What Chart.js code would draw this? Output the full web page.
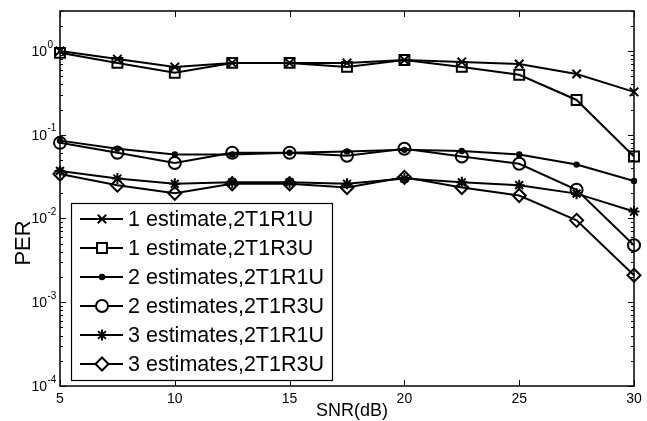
<!DOCTYPE html>
<html>
<head>
<meta charset="utf-8">
<script src="https://cdn.jsdelivr.net/npm/chart.js@4/dist/chart.umd.min.js"></script>
<style>
  html, body { margin: 0; padding: 0; background: #fff; }
  #wrap { width: 647px; height: 421px; }
</style>
</head>
<body>
<div id="wrap"><canvas id="c" width="647" height="421"></canvas></div>
<script>
// SNR (dB) sample points
const snr = [5, 7.5, 10, 12.5, 15, 17.5, 20, 22.5, 25, 27.5, 30]

// PER
const per1Est1R1U = [1.0, 0.80, 0.645, 0.72, 0.72, 0.72, 0.78, 0.74, 0.70, 0.53, 0.325]
const per1Est1R3U = [0.95, 0.72, 0.55, 0.72, 0.72, 0.645, 0.78, 0.645, 0.52, 0.26, 0.055]
const per2Est1R1U = [0.085, 0.068, 0.058, 0.058, 0.061, 0.063, 0.066, 0.064, 0.058, 0.044, 0.028]
const per2Est1R3U = [0.080, 0.061, 0.046, 0.061, 0.061, 0.056, 0.068, 0.055, 0.045, 0.022, 0.0048]
const per3Est1R1U = [0.037, 0.030, 0.026, 0.027, 0.027, 0.026, 0.030, 0.027, 0.025, 0.0198, 0.0121]
const per3Est1R3U = [0.034, 0.025, 0.020, 0.026, 0.026, 0.0234, 0.031, 0.0234, 0.0188, 0.0095, 0.0021]

const seriesLabels = [
  "1 estimate,2T1R1U", "1 estimate,2T1R3U",
  "2 estimates,2T1R1U", "2 estimates,2T1R3U",
  "3 estimates,2T1R1U", "3 estimates,2T1R3U",
]

// axis ticks
const xTicks = [5, 10, 15, 20, 25, 30]
const yTickExps = [-4, -3, -2, -1, 0]
const xTitle = "SNR(dB)"
const yTitle = "PER"

const FONT = "'Liberation Sans', Arial, Helvetica, sans-serif"

const markers = [
  { pointStyle: "crossRot", radius: 6, fill: false },
  { pointStyle: "rect", radius: 7, fill: false },
  { pointStyle: "circle", radius: 2.2, fill: true },
  { pointStyle: "circle", radius: 6, fill: false },
  { pointStyle: "star", radius: 5.5, fill: false },
  { pointStyle: "rectRot", radius: 6.5, fill: false },
]

const allSeries = [per1Est1R1U, per1Est1R3U, per2Est1R1U, per2Est1R3U, per3Est1R1U, per3Est1R3U]

const datasets = allSeries.map((vals, i) => ({
  label: seriesLabels[i],
  data: vals.map((v, k) => ({ x: snr[k], y: v })),
  borderColor: "#000",
  borderWidth: 2,
  pointStyle: markers[i].pointStyle,
  pointRadius: markers[i].radius,
  pointBorderWidth: 2,
  pointBorderColor: "#000",
  pointBackgroundColor: markers[i].fill ? "#000" : "rgba(0,0,0,0)",
  tension: 0,
  clip: false,
}))

// MATLAB-like axes: box, inward ticks, labels, legend
const matlabAxes = {
  id: "matlabAxes",
  afterDraw(chart) {
    const { ctx, chartArea: a, scales } = chart
    const xs = scales.x, ys = scales.y
    ctx.save()
    ctx.strokeStyle = "#000"
    ctx.fillStyle = "#000"

    // ticks
    ctx.lineWidth = 1
    ctx.beginPath()
    xTicks.forEach(t => {
      const px = Math.round(xs.getPixelForValue(t)) + 0.5
      ctx.moveTo(px, a.bottom); ctx.lineTo(px, a.bottom - 6)
      ctx.moveTo(px, a.top); ctx.lineTo(px, a.top + 6)
    })
    for (let e = -4; e <= 0; e++) {
      for (let m = 1; m <= 9; m++) {
        const v = m * Math.pow(10, e)
        if (v > ys.max) break
        const py = Math.round(ys.getPixelForValue(v)) + 0.5
        const len = m === 1 ? 6 : 3
        ctx.moveTo(a.left, py); ctx.lineTo(a.left + len, py)
        ctx.moveTo(a.right, py); ctx.lineTo(a.right - len, py)
      }
    }
    ctx.stroke()

    // box
    ctx.lineWidth = 1.5
    ctx.strokeRect(a.left, a.top, a.right - a.left, a.bottom - a.top)

    // x tick labels
    ctx.font = "14px " + FONT
    ctx.textAlign = "center"
    ctx.textBaseline = "middle"
    xTicks.forEach(t => ctx.fillText(String(t), xs.getPixelForValue(t), 399))

    // y tick labels 10^e
    yTickExps.forEach(e => {
      const py = ys.getPixelForValue(Math.pow(10, e))
      ctx.font = "14px " + FONT
      ctx.textAlign = "right"
      ctx.fillText("10", 47, py + 1)
      ctx.font = "10px " + FONT
      ctx.textAlign = "left"
      ctx.fillText(String(e), 47.5, py - 6)
    })

    // axis titles
    ctx.font = "18px " + FONT
    ctx.textAlign = "center"
    ctx.fillText(xTitle, 352, 411)
    ctx.save()
    ctx.translate(24, 243)
    ctx.rotate(-Math.PI / 2)
    ctx.font = "22px " + FONT
    ctx.fillText(yTitle, 0, 0)
    ctx.restore()

    // legend
    const L = { left: 71, top: 203, right: 332, bottom: 380 }
    ctx.fillStyle = "#fff"
    ctx.fillRect(L.left, L.top, L.right - L.left, L.bottom - L.top)
    ctx.lineWidth = 1.2
    ctx.strokeStyle = "#000"
    ctx.strokeRect(L.left + 0.5, L.top + 0.5, L.right - L.left, L.bottom - L.top)
    ctx.font = "21.5px " + FONT
    ctx.textAlign = "left"
    seriesLabels.forEach((lbl, i) => {
      const y = 219 + i * 29
      ctx.strokeStyle = "#000"
      ctx.lineWidth = 2
      ctx.beginPath()
      ctx.moveTo(80, y); ctx.lineTo(123, y)
      ctx.stroke()
      ctx.fillStyle = markers[i].fill ? "#000" : "#fff"
      ctx.strokeStyle = "#000"
      ctx.lineWidth = 2
      Chart.helpers.drawPoint(ctx, {
        pointStyle: markers[i].pointStyle,
        radius: markers[i].radius,
        rotation: 0,
        borderWidth: 2,
      }, 102, y)
      ctx.fillStyle = "#000"
      ctx.fillText(lbl, 128, y + 1)
    })
    ctx.restore()
  }
}

new Chart(document.getElementById("c"), {
  type: "line",
  data: { datasets },
  options: {
    responsive: false,
    animation: false,
    layout: { padding: { left: 60, right: 13, top: 11, bottom: 35 } },
    scales: {
      x: { type: "linear", min: 5, max: 30, display: false },
      y: { type: "logarithmic", min: 1e-4, max: 3, display: false },
    },
    plugins: { legend: { display: false }, tooltip: { enabled: false } },
  },
  plugins: [matlabAxes],
})
</script>
</body>
</html>
